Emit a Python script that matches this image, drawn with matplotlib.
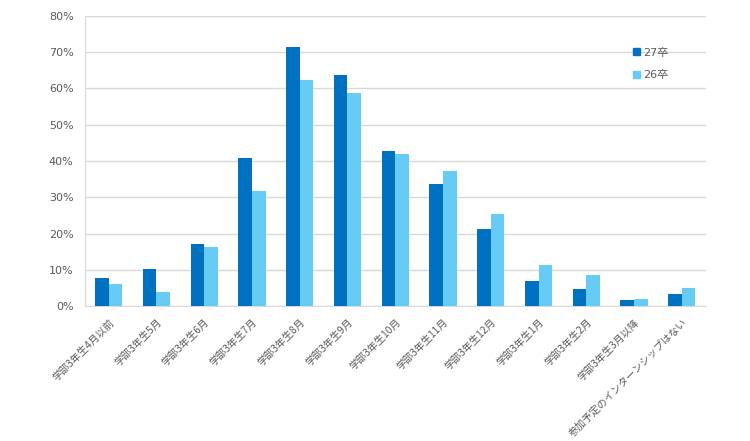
import matplotlib.pyplot as plt
import numpy as np
from matplotlib.patches import Patch
from matplotlib.transforms import ScaledTranslation

plt.rcParams['font.family'] = ['Noto Sans CJK JP', 'DejaVu Sans']

categories = ['学部3年生4月以前', '学部3年生5月', '学部3年生6月', '学部3年生7月',
              '学部3年生8月', '学部3年生9月', '学部3年生10月', '学部3年生11月',
              '学部3年生12月', '学部3年生1月', '学部3年生2月', '学部3年生3月以降',
              '参加予定のインターンシップはない']
grad27 = [7.8, 10.2, 17.0, 40.7, 71.4, 63.7, 42.8, 33.7, 21.3, 6.8, 4.7, 1.7, 3.3]
grad26 = [6.1, 4.0, 16.3, 31.7, 62.3, 58.8, 41.9, 37.2, 25.5, 11.2, 8.6, 2.0, 5.1]
series_names = ['27卒', '26卒']

col27 = '#0070C0'
col26 = '#66CCF5'
text_col = '#595959'
grid_col = '#D9D9D9'

fig = plt.figure(figsize=(7.5, 4.41), dpi=100)
ax = fig.add_axes([0.113, 0.306, 0.828, 0.658])

x = np.arange(len(categories))
w = 0.285
ax.bar(x - w / 2, grad27, width=w, color=col27, zorder=3)
ax.bar(x + w / 2, grad26, width=w, color=col26, zorder=3)

ax.set_xlim(-0.5, len(categories) - 0.5)
ax.set_ylim(0, 80)
ax.set_yticks(np.arange(0, 81, 10))
ax.set_yticklabels([f'{v}%' for v in range(0, 81, 10)], family=['DejaVu Sans'])
ax.yaxis.grid(True, color=grid_col, linewidth=1, zorder=0)

ax.set_xticks(x)
ax.set_xticklabels(categories, rotation=45, ha='right', va='top', rotation_mode='anchor')
shift = ScaledTranslation(5 / 72, 0, fig.dpi_scale_trans)
for lab in ax.get_xticklabels():
    lab.set_transform(lab.get_transform() + shift)

for s in ['top', 'right']:
    ax.spines[s].set_visible(False)
for s in ['left', 'bottom']:
    ax.spines[s].set_color(grid_col)
ax.tick_params(axis='y', length=0, colors=text_col, labelsize=8, pad=8)
ax.tick_params(axis='x', length=0, colors=text_col, labelsize=7.3, pad=8)

handles = [Patch(color=col27), Patch(color=col26)]
leg = ax.legend(handles, series_names, loc='upper left', bbox_to_anchor=(0.867, 0.925),
                frameon=False, handlelength=0.6, handleheight=0.6, handletextpad=0.3,
                labelspacing=1.15, prop={'family': ['DejaVu Sans', 'Noto Sans CJK JP'], 'size': 8})
for t in leg.get_texts():
    t.set_color(text_col)

fig.savefig('out.png', dpi=100)
